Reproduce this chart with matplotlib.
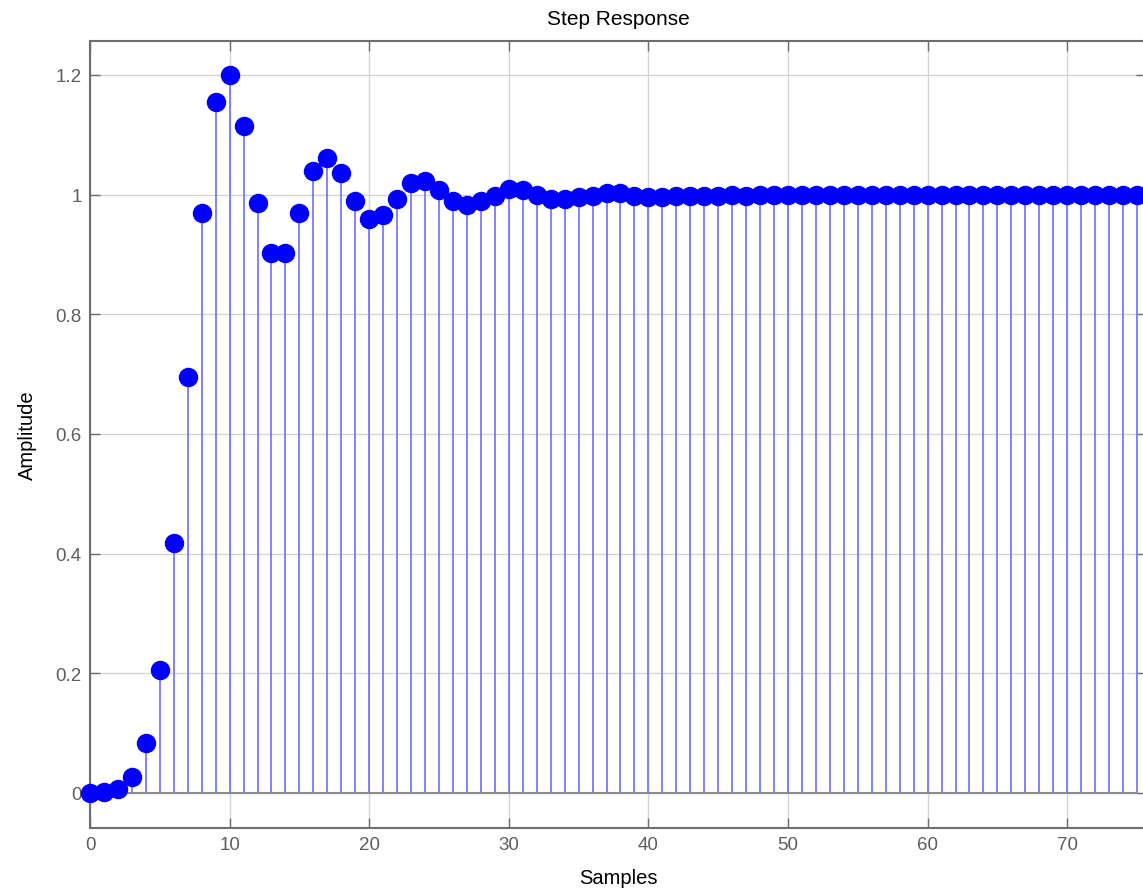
import numpy as np
import matplotlib
matplotlib.use("Agg")
import matplotlib.pyplot as plt
from matplotlib.ticker import FormatStrFormatter

plt.rcParams["font.family"] = ["Liberation Sans", "DejaVu Sans"]

# step response samples (k = 0 .. 75)
samples = np.arange(76)
amplitude = [
    0.000, 0.002, 0.007, 0.026, 0.083, 0.206, 0.417, 0.695, 0.969, 1.155,
    1.200, 1.115, 0.986, 0.902, 0.902, 0.969, 1.039, 1.062, 1.036, 0.990,
    0.959, 0.966, 0.992, 1.019, 1.022, 1.008, 0.989, 0.982, 0.990, 0.998,
    1.009, 1.008, 1.000, 0.993, 0.993, 0.996, 0.998, 1.002, 1.002, 0.998,
    0.996, 0.996, 0.998, 0.998, 0.998, 0.998, 0.999, 0.997, 0.999, 1.000,
    1.000, 1.000, 1.000, 1.000, 1.000, 1.000, 1.000, 1.000, 1.000, 1.000,
    1.000, 1.000, 1.000, 1.000, 1.000, 1.000, 1.000, 1.000, 1.000, 1.000,
    1.000, 1.000, 1.000, 1.000, 1.000, 1.000,
]
x_ticks = [0, 10, 20, 30, 40, 50, 60, 70]
y_ticks = [0, 0.2, 0.4, 0.6, 0.8, 1.0, 1.2]

axis_grey = "#6e6e6e"
label_grey = "#5e5e5e"

fig = plt.figure(figsize=(11.43, 8.95), dpi=100)
ax = fig.add_axes([90 / 1143, 1 - 829 / 895, 1056 / 1143, 787 / 895])

markerline, stemlines, baseline = ax.stem(samples, amplitude)
stemlines.set_color("#7878ff")
stemlines.set_linewidth(1.3)
markerline.set_color("#0000ff")
markerline.set_markersize(13)
markerline.set_clip_on(False)
markerline.set_zorder(4)
baseline.set_color("#8c8c8c")
baseline.set_linewidth(1.5)

ax.set_xlim(0, 1056 / 13.96)
ax.set_ylim(-0.0585, 1.2568)
ax.set_xticks(x_ticks)
ax.set_yticks(y_ticks)
ax.yaxis.set_major_formatter(FormatStrFormatter("%g"))

ax.grid(True, color="#d4d4d4", linewidth=1.0)
ax.set_axisbelow(True)
ax.tick_params(direction="in", length=7, width=1, color=axis_grey,
               labelcolor=label_grey, labelsize=13.5,
               top=True, right=True, pad=6)
for side in ax.spines.values():
    side.set_color(axis_grey)
    side.set_linewidth(1.5)

ax.set_title("Step Response", fontsize=15, pad=12)
ax.set_xlabel("Samples", fontsize=14.5, labelpad=10.5)
ax.set_ylabel("Amplitude", fontsize=14.5, labelpad=13)

fig.savefig("out.png", dpi=100)
